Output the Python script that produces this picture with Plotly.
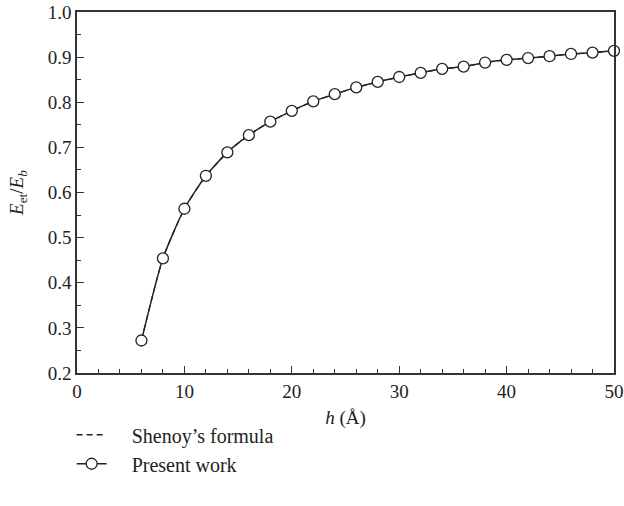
import plotly.graph_objects as go

h_values = [6, 8, 10, 12, 14, 16, 18, 20, 22, 24, 26, 28, 30, 32, 34, 36, 38, 40, 42, 44, 46, 48, 50]
present_work = [0.272, 0.454, 0.564, 0.637, 0.689, 0.727, 0.757, 0.781, 0.802, 0.818, 0.833, 0.845,
                0.856, 0.865, 0.874, 0.879, 0.888, 0.894, 0.898, 0.902, 0.907, 0.910, 0.914]
shenoy_formula = [0.272, 0.454, 0.564, 0.637, 0.689, 0.727, 0.757, 0.781, 0.802, 0.818, 0.833, 0.845,
                  0.856, 0.865, 0.874, 0.879, 0.888, 0.894, 0.898, 0.902, 0.907, 0.910, 0.914]
legend_names = ["Shenoy’s formula", "Present work"]

FONT = "Liberation Serif"
PAD = "\u00a0" * 4

fig = go.Figure()
fig.add_trace(go.Scatter(
    x=h_values, y=shenoy_formula, mode="lines", name=PAD + legend_names[0],
    line=dict(color="#222222", width=1.3, dash="6px,4px", shape="spline", smoothing=0.6),
))
fig.add_trace(go.Scatter(
    x=h_values, y=present_work, mode="lines+markers", name=PAD + legend_names[1],
    line=dict(color="#222222", width=1.5, shape="spline", smoothing=0.6),
    marker=dict(symbol="circle", size=11, color="white", line=dict(color="#222222", width=1.3)),
    cliponaxis=False,
))

axis_common = dict(
    showline=True, linecolor="#333333", linewidth=1.5, mirror=True,
    ticks="inside", ticklen=7, tickwidth=1.3, tickcolor="#333333",
    showgrid=False, zeroline=False, automargin=False,
    tickfont=dict(family=FONT, size=19, color="#222222"),
)

fig.update_xaxes(
    range=[0, 50], tick0=0, dtick=10,
    minor=dict(ticks="inside", ticklen=4, tickwidth=1.2, tickcolor="#333333", dtick=2),
    title=dict(text="<i>h</i> (Å)", font=dict(family=FONT, size=19, color="#222222"), standoff=10),
    **axis_common,
)
fig.update_yaxes(
    range=[0.2, 1.0], tick0=0.2, dtick=0.1, tickformat=".1f",
    minor=dict(ticks="inside", ticklen=4, tickwidth=1.2, tickcolor="#333333", dtick=0.05),
    title=dict(text="<i>E</i><sub>et</sub>/<i>E</i><sub><i>b</i></sub>",
               font=dict(family=FONT, size=19, color="#222222"), standoff=19),
    **axis_common,
)

fig.update_layout(
    width=624, height=506,
    margin=dict(l=77, r=10, t=12, b=133),
    plot_bgcolor="white", paper_bgcolor="white",
    font=dict(family=FONT, size=19, color="#222222"),
    legend=dict(
        x=-0.01, y=-0.117, xanchor="left", yanchor="top",
        font=dict(family=FONT, size=20, color="#222222"),
        bgcolor="rgba(0,0,0,0)", tracegroupgap=0, itemwidth=30,
    ),
    showlegend=True,
)

fig.write_html(
    "out.html",
    config={"displayModeBar": False},
    post_script="document.body.style.margin='0';document.body.style.overflow='hidden';",
)
